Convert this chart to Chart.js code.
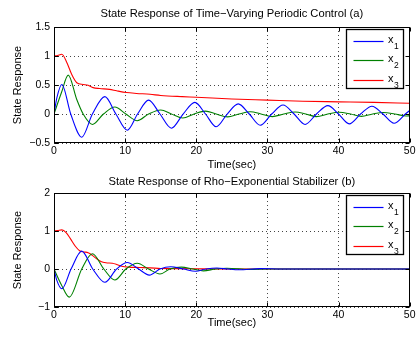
<!DOCTYPE html>
<html><head><meta charset="utf-8">
<script src="https://cdn.jsdelivr.net/npm/chart.js@4.4.0/dist/chart.umd.min.js"></script>
<style>
html,body{margin:0;padding:0;background:#fff;width:417px;height:338px;overflow:hidden}
canvas{position:absolute;left:0}
#c1{top:0}
#c2{top:172px}
</style></head><body>
<canvas id="c1" width="417" height="172"></canvas>
<canvas id="c2" width="417" height="166"></canvas>
<script>
// ---------- data ----------
const xTicks = [0, 10, 20, 30, 40, 50];
const topYTicks = [-0.5, 0, 0.5, 1, 1.5];
const botYTicks = [-1, 0, 1, 2];
const seriesNames = ['x1', 'x2', 'x3'];
const seriesColors = ['#0000ff', '#008000', '#ff0000'];

// (a) Time-Varying Periodic Control
const topT1 = [0,0.4,1.1,2.35,3.9,5.4,7.15,8.7,10.3,11.75,13.3,14.9,16.5,18.15,19.8,21.3,22.8,24.35,25.9,27.45,29.0,30.6,32.2,33.75,35.3,36.9,38.5,40.0,41.5,43.1,44.7,46.25,47.8,49.4,50];
const topY1 = [0,0.28,0.51,0,-0.40,0,0.30,0,-0.28,0,0.24,0,-0.245,0,0.20,0,-0.22,0,0.175,0,-0.195,0,0.155,0,-0.18,0,0.145,0,-0.17,0,0.135,0,-0.16,0,0.06];
const topT2 = [0,1.05,2.0,3.2,4.1,5.4,6.95,8.55,10.1,11.7,13.3,15.0,16.5,18.1,19.7,21.3,22.8,24.4,26.0,27.6,29.1,30.7,32.3,33.9,35.4,36.9,38.5,40.1,41.7,43.2,44.8,46.3,47.9,49.5,50];
const topY2 = [0,0.37,0.67,0.25,0,-0.18,0,0.12,0,-0.115,0,0.07,0,-0.07,0,0.05,0,-0.05,0,0.04,0,-0.045,0,0.035,0,-0.045,0,0.03,0,-0.04,0,0.025,0,-0.035,-0.03];
const topT3 = [0,0.5,1.1,1.8,2.5,3.2,4.1,4.8,5.5,6.4,7.8,8.8,10.2,11.6,13.5,15,18,20,25,30,35,40,45,50];
const topY3 = [1.0,1.01,1.03,0.89,0.68,0.54,0.51,0.495,0.455,0.44,0.425,0.40,0.37,0.355,0.34,0.32,0.30,0.29,0.26,0.24,0.22,0.21,0.20,0.185];

// (b) Rho-Exponential Stabilizer
const botT1 = [0,0.4,1.1,2.4,3.9,5.45,7.15,8.8,10.3,11.9,13.4,14.9,16.4,18.2,19.9,21.4,22.9,24.4,26,29,32,50];
const botY1 = [0,-0.3,-0.52,0,0.47,0,-0.35,0,0.17,0,-0.16,0,0.06,0,-0.06,0,0.025,0,-0.02,0.01,0,0];
const botT2 = [0,1.05,2.15,3.9,5.4,7.0,8.55,10.1,11.7,13.3,14.9,16.3,17.9,19.5,21.0,22.7,24.3,27.5,30,50];
const botY2 = [0,-0.42,-0.74,0,0.40,0,-0.29,0,0.15,0,-0.13,0,0.05,0,-0.05,0,0.02,-0.01,0,0];
const botT3 = [0,0.5,1.1,1.7,2.3,3.0,3.6,4.2,4.8,5.4,6.0,6.6,7.3,8.2,8.8,9.5,10.5,12,13.5,15,17,20,25,50];
const botY3 = [1.0,1.01,1.03,0.96,0.80,0.60,0.48,0.45,0.43,0.36,0.27,0.20,0.165,0.15,0.12,0.075,0.05,0.04,0.03,0.015,0.01,0.005,0,0];

// ---------- drawing ----------
const FONT = '"Liberation Sans", Arial, Helvetica, sans-serif';
const fmt = v => (v < 0 ? '\u2212' : '') + Math.abs(v);
const pts = (t, y) => t.map((tv, i) => ({x: tv, y: y[i]}));

const boxPlugin = {
  id: 'matlabBox',
  afterDraw(chart) {
    const {ctx, chartArea: a, scales: {x, y}} = chart;
    const L = Math.round(a.left) + 0.5, R = Math.round(a.right) - 0.5;
    const T = Math.round(a.top) + 0.5, B = Math.round(a.bottom) - 0.5;
    ctx.save();
    ctx.strokeStyle = '#000';
    ctx.lineWidth = 1;
    ctx.beginPath();
    x.ticks.forEach(t => {
      const px = Math.round(x.getPixelForValue(t.value)) + 0.5;
      ctx.moveTo(px, B); ctx.lineTo(px, B - 4);
      ctx.moveTo(px, T); ctx.lineTo(px, T + 4);
    });
    y.ticks.forEach(t => {
      const py = Math.round(y.getPixelForValue(t.value)) + 0.5;
      ctx.moveTo(L, py); ctx.lineTo(L + 4, py);
      ctx.moveTo(R, py); ctx.lineTo(R - 4, py);
    });
    ctx.stroke();
    ctx.strokeRect(L, T, R - L, B - T);
    // legend
    const bx = Math.round(a.right - 64) + 0.5, by = Math.round(a.top + 2) + 0.5;
    const bw = 57, bh = 59;
    ctx.fillStyle = '#fff';
    ctx.fillRect(bx, by, bw, bh);
    ctx.lineWidth = 1.3;
    ctx.strokeStyle = '#000';
    ctx.strokeRect(bx, by, bw, bh);
    chart.data.datasets.forEach((ds, i) => {
      const ry = Math.round(by + 11 + i * 19.8) + 0.5;
      ctx.strokeStyle = seriesColors[i];
      ctx.lineWidth = 1.2;
      ctx.beginPath();
      ctx.moveTo(bx + 7, ry); ctx.lineTo(bx + 37, ry);
      ctx.stroke();
      ctx.fillStyle = '#000';
      ctx.textBaseline = 'alphabetic';
      ctx.textAlign = 'left';
      ctx.font = '11px ' + FONT;
      ctx.fillText(ds.label[0], bx + 41.5, ry + 1.5);
      ctx.font = '8.5px ' + FONT;
      ctx.fillText(ds.label.slice(1), bx + 47.5, ry + 7.5);
    });
    ctx.restore();
  }
};

function makeChart(id, title, yTicks, series, titlePad, xHeight, xTitlePad) {
  const datasets = series.map((s, i) => ({
    label: seriesNames[i],
    data: pts(s[0], s[1]),
    borderColor: seriesColors[i],
    backgroundColor: seriesColors[i],
    borderWidth: 1.1,
    pointRadius: 0,
    cubicInterpolationMode: 'monotone',
    fill: false
  }));
  return new Chart(document.getElementById(id), {
    type: 'line',
    data: {datasets},
    plugins: [boxPlugin],
    options: {
      responsive: false,
      animation: false,
      events: [],
      layout: {padding: {left: 0, right: 6, top: 0, bottom: 0}},
      plugins: {
        legend: {display: false},
        tooltip: {enabled: false},
        title: {
          display: true, text: title, color: '#000', fullSize: false,
          font: {family: FONT, size: 11.2, weight: 'normal'},
          padding: titlePad
        }
      },
      scales: {
        x: {
          type: 'linear', min: 0, max: 50,
          afterBuildTicks: s => { s.ticks = xTicks.map(v => ({value: v})); },
          afterFit: s => { s.height = xHeight; },
          ticks: {color: '#000', font: {family: FONT, size: 10.5}, padding: 1.5, maxRotation: 0, autoSkip: false, callback: v => fmt(v)},
          grid: {color: '#444', lineWidth: 1, drawTicks: false},
          border: {display: false, dash: [1, 3]},
          title: {display: true, text: 'Time(sec)', color: '#000', font: {family: FONT, size: 11}, padding: {top: 0, bottom: xTitlePad}}
        },
        y: {
          type: 'linear', min: yTicks[0], max: yTicks[yTicks.length - 1],
          afterBuildTicks: s => { s.ticks = yTicks.map(v => ({value: v})); },
          afterFit: s => { s.width = 54; },
          ticks: {color: '#000', font: {family: FONT, size: 10.5}, padding: 4, callback: v => fmt(v)},
          grid: {color: '#444', lineWidth: 1, drawTicks: false},
          border: {display: false, dash: [1, 3]},
          title: {display: true, text: 'State Response', color: '#000', font: {family: FONT, size: 11}, padding: {top: 11.4, bottom: 0}}
        }
      }
    }
  });
}

makeChart('c1', 'State Response of Time\u2212Varying Periodic Control (a)', topYTicks,
  [[topT1, topY1], [topT2, topY2], [topT3, topY3]],
  {top: 7.3, bottom: 6.3}, 29, 0.4);
makeChart('c2', 'State Response of Rho\u2212Exponential Stabilizer (b)', botYTicks,
  [[botT1, botY1], [botT2, botY2], [botT3, botY3]],
  {top: 3.3, bottom: 4.3}, 31, 8.4);
</script></body></html>
